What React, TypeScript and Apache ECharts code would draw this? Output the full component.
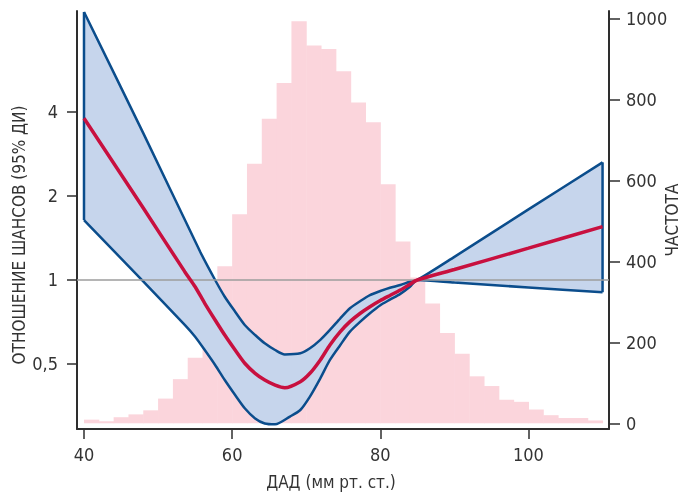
import React, { useEffect, useRef } from "react";
import * as echarts from "echarts";

// Histogram (frequency) – bins of DBP
const binStarts = [40, 42, 44, 46, 48, 50, 52, 54, 56, 58, 60, 62, 64, 66, 68, 70, 72, 74, 76, 78, 80, 82, 84, 86, 88, 90, 92, 94, 96, 98, 100, 102, 104, 106, 108];
const binEnds = [42, 44, 46, 48, 50, 52, 54, 56, 58, 60, 62, 64, 66, 68, 70, 72, 74, 76, 78, 80, 82, 84, 86, 88, 90, 92, 94, 96, 98, 100, 102, 104, 106, 108, 110];
const counts = [9, 5, 15, 22, 32, 61, 109, 162, 260, 388, 516, 641, 752, 840, 993, 933, 924, 869, 792, 743, 590, 449, 360, 296, 223, 172, 116, 92, 58, 53, 34, 20, 13, 13, 7];

// Odds ratio curve
const orX = [40, 48, 53.6, 55.0, 56.3, 57.7, 59.0, 60.4, 61.7, 63.1, 64.4, 65.8, 67.1, 69.2, 70.5, 71.9, 73.2, 74.6, 75.9, 77.3, 78.6, 80.0, 81.3, 82.7, 84, 85, 90, 100, 110];
const orY = [3.8, 1.81, 1.071, 0.946, 0.825, 0.719, 0.635, 0.561, 0.503, 0.463, 0.438, 0.42, 0.411, 0.432, 0.463, 0.517, 0.585, 0.653, 0.709, 0.76, 0.802, 0.844, 0.88, 0.92, 0.966, 1.0, 1.09, 1.3, 1.553];

// Upper 95% CI
const hiX = [40, 48, 55.7, 57.7, 59.0, 60.4, 61.7, 63.1, 64.4, 65.8, 67.1, 69.2, 70.5, 71.9, 73.2, 74.6, 75.9, 77.3, 78.6, 80.0, 81.3, 82.7, 84, 85, 90, 100, 110];
const hiY = [9.13, 3.36, 1.26, 1.0, 0.871, 0.77, 0.69, 0.635, 0.593, 0.561, 0.541, 0.546, 0.569, 0.61, 0.662, 0.729, 0.792, 0.841, 0.883, 0.913, 0.938, 0.959, 0.986, 1.0, 1.21, 1.79, 2.64];

// Lower 95% CI
const loX = [40, 47.8, 53.6, 55.0, 56.3, 57.7, 59.0, 60.4, 61.7, 63.1, 64.4, 65.8, 67.8, 69.2, 70.5, 71.9, 73.2, 74.6, 75.9, 77.3, 78.6, 80.0, 81.3, 82.7, 84, 85, 90, 100, 110];
const loY = [1.64, 1.0, 0.69, 0.626, 0.561, 0.496, 0.438, 0.387, 0.347, 0.319, 0.306, 0.304, 0.324, 0.342, 0.382, 0.444, 0.517, 0.585, 0.653, 0.709, 0.76, 0.812, 0.85, 0.892, 0.946, 1.0, 0.979, 0.94, 0.904];

// Axes
const xTicks = [40, 60, 80, 100];
const orTicks = [0.5, 1, 2, 4];
const orTickLabels = ["0,5", "1", "2", "4"];
const freqTicks = [0, 200, 400, 600, 800, 1000];
const refOR = 1;

const FONT = "'Liberation Sans Narrow', 'Arial Narrow', 'DejaVu Sans Condensed', 'Roboto', sans-serif";
const TXT = "#333333";
const AXIS = "#2e2e2e";
const BLUE = "#0b4d8c";
const RED = "#c8103f";
const FILL = "#c6d5ec";
const PINK = "#fbd5dc";

const lg = (v: number) => Math.log2(v);

export default function App() {
  const ref = useRef<HTMLDivElement>(null);
  useEffect(() => {
    if (!ref.current) return;
    const chart = echarts.init(ref.current, undefined, { renderer: "svg" });

    const hiPts = hiX.map((x, i) => [x, lg(hiY[i])]);
    const loPts = loX.map((x, i) => [x, lg(loY[i])]);
    const orPts = orX.map((x, i) => [x, lg(orY[i])]);
    const histData = binStarts.map((s, i) => [s, binEnds[i], counts[i]]);

    const option: any = {
      animation: false,
      textStyle: { fontFamily: FONT, color: TXT },
      grid: { left: 77, right: 72, top: 11, bottom: 68, containLabel: false, outerBoundsMode: "none" },
      xAxis: {
        type: "value",
        min: 39.055,
        max: 110.87,
        axisLine: { show: true, onZero: false, lineStyle: { color: AXIS, width: 2 } },
        axisTick: { show: true, customValues: xTicks, length: 10, lineStyle: { color: AXIS, width: 1.5 } },
        axisLabel: { customValues: xTicks, fontSize: 18, margin: 16, color: TXT, fontFamily: FONT, formatter: (v: number) => String(v) },
        splitLine: { show: false },
        name: "ДАД (мм рт. ст.)",
        nameLocation: "middle",
        nameGap: 44,
        nameMoveOverlap: false,
        nameTextStyle: { fontSize: 17, color: TXT, fontFamily: FONT, padding: [0, 24, 0, 0] },
      },
      yAxis: [
        {
          type: "value",
          position: "left",
          min: -1.774,
          max: 3.202,
          axisLine: { show: true, onZero: false, lineStyle: { color: AXIS, width: 2 } },
          axisTick: { show: true, customValues: orTicks.map(lg), length: 10, lineStyle: { color: AXIS, width: 1.5 } },
          axisLabel: {
            customValues: orTicks.map(lg),
            fontSize: 18,
            margin: 19,
            color: TXT,
            fontFamily: FONT,
            formatter: (v: number) => {
              const i = orTicks.findIndex((t) => Math.abs(lg(t) - v) < 1e-6);
              return i >= 0 ? orTickLabels[i] : "";
            },
          },
          splitLine: { show: false },
          name: "ОТНОШЕНИЕ ШАНСОВ (95% ДИ)",
          nameLocation: "middle",
          nameRotate: 90,
          nameGap: 50,
          nameMoveOverlap: false,
          nameTextStyle: { fontSize: 17, color: TXT, fontFamily: FONT, padding: [0, 30, 0, 0] },
        },
        {
          type: "value",
          position: "right",
          min: -14.1,
          max: 1018,
          axisLine: { show: true, onZero: false, lineStyle: { color: AXIS, width: 2 } },
          axisTick: { show: true, customValues: freqTicks, length: 11, lineStyle: { color: AXIS, width: 1.5 } },
          axisLabel: { customValues: freqTicks, fontSize: 18, margin: 17, color: TXT, fontFamily: FONT, formatter: (v: number) => String(v) },
          splitLine: { show: false },
          name: "ЧАСТОТА",
          nameLocation: "middle",
          nameRotate: 90,
          nameGap: 54,
          nameMoveOverlap: false,
          nameTextStyle: { fontSize: 17, color: TXT, fontFamily: FONT },
        },
      ],
      series: [
        {
          type: "custom",
          name: "hist",
          xAxisIndex: 0,
          yAxisIndex: 1,
          silent: true,
          encode: { x: [0, 1], y: 2 },
          data: histData,
          renderItem: (params: any, api: any) => {
            const p0 = api.coord([api.value(0), api.value(2)]);
            const p1 = api.coord([api.value(1), 0]);
            return {
              type: "rect",
              shape: { x: p0[0], y: p0[1], width: p1[0] - p0[0] + 0.5, height: p1[1] - p0[1] },
              style: { fill: PINK },
            };
          },
          z: 1,
        },
        {
          type: "custom",
          name: "band",
          xAxisIndex: 0,
          yAxisIndex: 0,
          silent: true,
          data: [[hiX[0], 0]],
          renderItem: (params: any, api: any) => {
            const top = hiPts.map((p) => api.coord(p));
            const bot = loPts.map((p) => api.coord(p)).reverse();
            const t0 = top[0];
            const b0 = bot[bot.length - 1];
            const t1 = top[top.length - 1];
            const b1 = bot[0];
            return {
              type: "group",
              children: [
                { type: "polygon", shape: { points: top.concat(bot) }, style: { fill: FILL } },
                { type: "line", shape: { x1: t0[0], y1: t0[1], x2: b0[0], y2: b0[1] }, style: { stroke: BLUE, lineWidth: 2.5 } },
                { type: "line", shape: { x1: t1[0], y1: t1[1], x2: b1[0], y2: b1[1] }, style: { stroke: BLUE, lineWidth: 2.5 } },
              ],
            };
          },
          z: 2,
        },
        {
          type: "line",
          name: "ref",
          xAxisIndex: 0,
          yAxisIndex: 0,
          data: [],
          silent: true,
          markLine: {
            silent: true,
            symbol: ["none", "none"],
            label: { show: false },
            lineStyle: { color: "#9c9c9c", width: 1.5, type: "solid" },
            data: [{ yAxis: lg(refOR) }],
          },
          z: 3,
        },
        {
          type: "line",
          name: "upper",
          xAxisIndex: 0,
          yAxisIndex: 0,
          data: hiPts,
          showSymbol: false,
          smooth: 0.25,
          lineStyle: { color: BLUE, width: 2.5 },
          z: 4,
        },
        {
          type: "line",
          name: "lower",
          xAxisIndex: 0,
          yAxisIndex: 0,
          data: loPts,
          showSymbol: false,
          smooth: 0.25,
          lineStyle: { color: BLUE, width: 2.5 },
          z: 4,
        },
        {
          type: "line",
          name: "or",
          xAxisIndex: 0,
          yAxisIndex: 0,
          data: orPts,
          showSymbol: false,
          smooth: 0.25,
          lineStyle: { color: RED, width: 3.5 },
          z: 5,
        },
      ],
    };
    chart.setOption(option);
    return () => chart.dispose();
  }, []);

  return <div ref={ref} style={{ position: "fixed", left: 0, top: 0, width: 681, height: 497 }} />;
}
